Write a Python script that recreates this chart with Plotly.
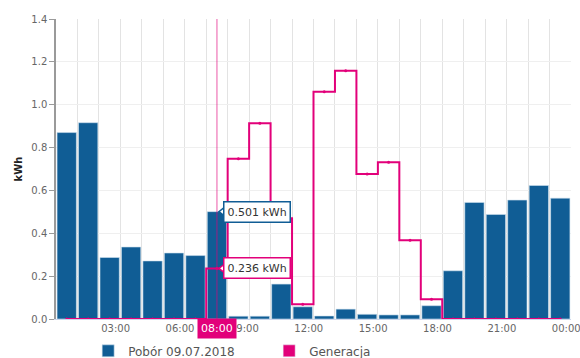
import plotly.graph_objects as go

# Hourly energy readings for 09.07.2018 (hour index 1..24, 24 = midnight)
hours = list(range(1, 25))
consumption = [0.870, 0.916, 0.287, 0.336, 0.271, 0.308, 0.296, 0.501,
               0.013, 0.013, 0.163, 0.057, 0.014, 0.046, 0.022, 0.019,
               0.019, 0.062, 0.225, 0.544, 0.488, 0.555, 0.623, 0.564]
generation = [0, 0, 0, 0, 0, 0, 0, 0.236,
              0.748, 0.913, 0.470, 0.069, 1.061, 1.159, 0.677, 0.731,
              0.367, 0.092, 0, 0, 0, 0, 0, 0]

tick_hours = [3, 6, 9, 12, 15, 18, 21, 24]
tick_labels = ["03:00", "06:00", "09:00", "12:00", "15:00", "18:00", "21:00", "00:00"]

series_names = ["Pobór 09.07.2018", "Generacja"]
hover_hour = 8
hover_label = "08:00"
unit = "kWh"

BLUE = "#105d95"
PINK = "#e2007a"
FONT = "DejaVu Sans"

fig = go.Figure()

fig.add_trace(go.Bar(
    x=hours, y=consumption, name=series_names[0],
    marker=dict(color=BLUE, line=dict(color="#cfe0ee", width=0.6)),
    hoverinfo="skip",
))

fig.add_trace(go.Scatter(
    x=hours, y=generation, name=series_names[1], mode="lines+markers",
    line=dict(color=PINK, width=2, shape="hvh"),
    marker=dict(color=PINK, size=3),
    hoverinfo="skip", showlegend=False,
))
# square legend key for the generation series
fig.add_trace(go.Bar(
    x=[None], y=[None], name=series_names[1], marker=dict(color=PINK),
    hoverinfo="skip",
))

# crosshair at the hovered hour
fig.add_shape(type="line", xref="x", yref="paper",
              x0=hover_hour, x1=hover_hour, y0=0, y1=1,
              line=dict(color="rgba(226,0,122,0.55)", width=1.2), layer="above")

# tooltip callouts for the hovered hour
idx = hours.index(hover_hour)
tips = [(consumption[idx], BLUE), (generation[idx], PINK)]
for val, col in tips:
    fig.add_trace(go.Scatter(
        x=[hover_hour + 0.3], y=[val], mode="markers", showlegend=False,
        hoverinfo="skip",
        marker=dict(symbol="triangle-left", size=9, color="white",
                    line=dict(color=col, width=1.5)),
    ))
    fig.add_annotation(
        x=hover_hour, y=val, xref="x", yref="y", xanchor="left", yanchor="middle",
        xshift=6, showarrow=False, text=f"{val:.3f} {unit}",
        font=dict(family=FONT, size=11, color="#333333"),
        bgcolor="white", bordercolor=col, borderwidth=1.5, borderpad=3,
    )

# hovered hour label on the x axis
fig.add_annotation(
    x=hover_hour, y=0, xref="x", yref="paper", yanchor="top", xanchor="center",
    showarrow=False, text=hover_label,
    font=dict(family=FONT, size=11, color="white"),
    bgcolor=PINK, borderpad=3, yshift=1,
)

fig.update_layout(
    width=580, height=358,
    margin=dict(l=56, r=9, t=19, b=39, autoexpand=False),
    paper_bgcolor="white", plot_bgcolor="white",
    bargap=0.1, barmode="overlay",
    font=dict(family=FONT, size=10, color="#666666"),
    legend=dict(
        orientation="h", xref="container", yref="container",
        x=0.152, y=0.02, xanchor="left", yanchor="middle",
        font=dict(family=FONT, size=12, color="#555555"),
        entrywidth=136, itemwidth=30,
    ),
    xaxis=dict(
        range=[0.5, 24.5], tickmode="array", tickvals=tick_hours, ticktext=tick_labels,
        showgrid=False, zeroline=False, ticks="", ticklabelshift=6,
        ticklabeloverflow="allow",
        showline=True, linecolor="#ccd6eb", linewidth=1,
        tickfont=dict(family=FONT, size=10, color="#666666"),
        minor=dict(tickmode="array", tickvals=[h + 0.5 for h in hours],
                   showgrid=True, gridcolor="#e3e3e3", gridwidth=1),
    ),
    yaxis=dict(
        range=[0, 1.4], dtick=0.2, tickformat=".1f",
        showgrid=True, gridcolor="#efefef", zeroline=False,
        showline=True, linecolor="#9a9a9a", linewidth=1.5,
        ticks="outside", ticklen=5, tickcolor="#9a9a9a",
        tickfont=dict(family=FONT, size=10, color="#666666"),
        title=dict(text=f"<b>{unit}</b>", standoff=7,
                   font=dict(family=FONT, size=10, color="#222222")),
    ),
)

fig.write_html("out.html")
